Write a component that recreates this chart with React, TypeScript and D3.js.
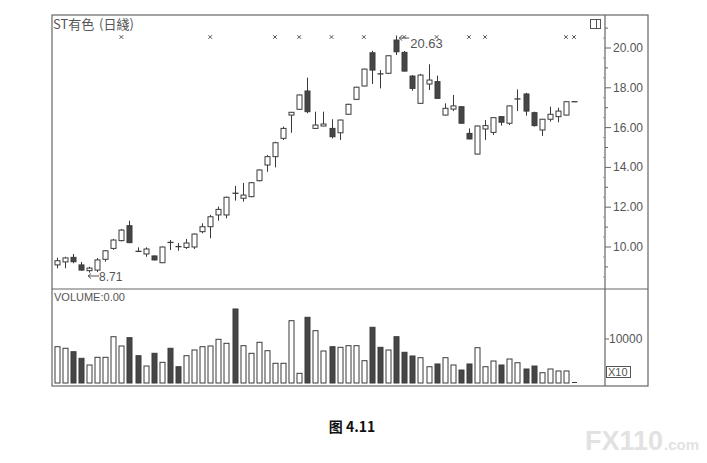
import React from "react";
import * as d3 from "d3";

const openP = [9.10, 9.25, 9.48, 9.10, 8.81, 8.84, 9.38, 9.93, 10.32, 11.07, 9.78, 9.65, 9.55, 9.21, 10.23, 10.02, 9.98, 10.00, 10.77, 11.02, 11.61, 11.61, 12.70, 12.45, 12.53, 13.33, 14.12, 14.54, 15.46, 16.63, 16.92, 17.84, 15.96, 16.08, 15.96, 15.74, 16.67, 17.42, 18.09, 19.76, 18.70, 18.73, 20.40, 19.78, 18.59, 17.22, 18.19, 18.31, 16.63, 16.93, 17.05, 15.71, 14.67, 15.93, 15.76, 16.55, 16.22, 17.43, 17.69, 16.75, 15.88, 16.42, 16.55, 16.63, 17.30];
const closeP = [9.31, 9.45, 9.26, 8.84, 8.94, 9.35, 9.81, 10.35, 10.85, 10.22, 9.77, 9.90, 9.35, 10.00, 10.21, 10.00, 10.20, 10.65, 11.02, 11.52, 11.89, 12.50, 12.68, 12.61, 13.23, 13.87, 14.54, 15.24, 15.96, 16.77, 17.64, 16.80, 16.13, 16.18, 15.54, 16.38, 17.17, 18.03, 18.94, 18.89, 18.69, 19.61, 19.81, 18.84, 17.97, 18.64, 18.39, 17.47, 16.97, 17.09, 16.22, 15.43, 16.08, 16.10, 16.50, 16.27, 17.09, 17.44, 16.83, 16.10, 16.42, 16.67, 16.83, 17.30, 17.30];
const highP = [9.46, 9.51, 9.65, 9.25, 9.01, 9.45, 9.85, 10.40, 10.90, 11.32, 9.98, 9.98, 9.57, 10.02, 10.35, 10.20, 10.40, 10.68, 11.19, 11.61, 12.03, 12.53, 13.07, 13.22, 13.26, 13.90, 14.62, 15.29, 16.05, 16.78, 17.66, 18.51, 16.80, 16.80, 16.42, 16.40, 17.20, 18.05, 18.96, 19.86, 18.89, 19.63, 20.63, 19.85, 18.64, 18.70, 19.18, 18.61, 17.22, 17.64, 17.07, 15.96, 16.10, 16.38, 16.52, 16.57, 17.11, 17.92, 17.75, 16.80, 16.44, 17.05, 17.00, 17.32, 17.30];
const lowP = [8.93, 8.93, 9.18, 8.81, 8.71, 8.74, 9.26, 9.86, 10.28, 10.19, 9.76, 9.51, 9.33, 9.19, 9.85, 9.81, 9.90, 9.90, 10.69, 10.44, 11.32, 11.44, 12.33, 12.28, 12.50, 13.30, 13.78, 14.00, 15.38, 15.74, 16.90, 16.72, 15.95, 16.07, 15.46, 15.38, 16.65, 17.40, 18.07, 18.19, 17.97, 18.70, 19.65, 18.82, 17.85, 17.20, 17.89, 17.45, 16.61, 16.83, 16.20, 15.41, 14.65, 15.38, 15.63, 16.10, 16.13, 16.83, 16.60, 16.05, 15.58, 16.30, 16.27, 16.61, 17.30];
const volume = [8250, 7890, 7110, 5610, 4090, 5840, 5840, 10520, 8410, 10300, 6200, 3860, 6750, 4700, 7890, 3700, 6200, 7500, 8250, 8410, 9930, 9020, 16820, 8480, 6750, 9250, 7340, 4480, 4480, 14160, 2200, 14930, 11890, 7270, 8250, 8110, 8480, 8480, 5070, 12660, 8110, 7500, 10520, 6980, 6140, 5750, 3700, 4320, 5750, 4090, 2950, 4320, 8020, 3700, 5000, 4090, 5450, 4610, 3180, 3860, 2340, 3180, 2730, 2730, 150];
const upVolume = [true, true, false, false, true, true, true, true, true, false, false, true, false, true, false, false, true, true, true, true, true, true, false, true, true, true, true, true, true, true, true, false, true, true, false, true, true, true, true, false, false, true, false, false, false, true, true, false, true, true, false, false, true, true, true, false, true, true, false, false, true, true, true, true, true];
const markerIdx = [8, 19, 27, 30, 34, 38, 43, 47, 51, 53, 63, 64];
const priceTicks = [10, 12, 14, 16, 18, 20];
const minorTicks = [9, 11, 13, 15, 17, 19, 21];
const volTicks = [10000];
const titleName = "ST有色";
const titlePeriod = "(日綫)";
const volTitle = "VOLUME:0.00";
const caption = "图 4.11";
const hiLabel = "20.63";
const loLabel = "8.71";

export default function App() {
  const n = openP.length;
  const idx = d3.range(n);
  const x = d3.scalePoint<number>().domain(idx).range([56.7, 574]);
  const y = d3.scaleLinear().domain([10, 20]).range([247, 48]);
  const yv = d3.scaleLinear().domain([0, 10000]).range([383, 339]);
  const bw = 5;
  const stroke = "#3a3a3a";
  const dark = "#464646";
  const frame = "#666";
  const left = 52, top = 15, right = 648, bottom = 386, axisX = 605, divY = 289;
  const hiI = highP.indexOf(d3.max(highP) as number);
  const loI = lowP.indexOf(d3.min(lowP) as number);
  const font = "'Liberation Sans', Arial, sans-serif";
  const cjk = "'Noto Sans CJK SC', sans-serif";

  return (
    <svg width={707} height={463} style={{ position: "absolute", left: 0, top: 0, background: "#fff" }}>
      <rect x={0} y={0} width={707} height={463} fill="#fff" />
      {/* frame */}
      <rect x={left} y={top} width={right - left} height={bottom - top} fill="none" stroke={frame} strokeWidth={1.2} />
      <line x1={axisX} x2={axisX} y1={top} y2={bottom} stroke={frame} strokeWidth={1.2} />
      <line x1={left} x2={right} y1={divY} y2={divY} stroke={frame} strokeWidth={1.2} />

      {/* title */}
      <text x={53} y={28.5} fontSize={13} fill="#555" fontFamily={cjk}>{titleName}</text>
      <text x={99} y={28.5} fontSize={13} fill="#555" fontFamily={cjk}>{titlePeriod}</text>
      {/* small panel icon */}
      <rect x={590.5} y={19.5} width={10} height={9} fill="none" stroke="#555" strokeWidth={1} />
      <line x1={596.5} x2={596.5} y1={19.5} y2={28.5} stroke="#555" strokeWidth={1} />

      {/* price axis ticks */}
      {minorTicks.map((t) => (
        <line key={"m" + t} x1={axisX} x2={axisX + 3} y1={y(t)} y2={y(t)} stroke={frame} />
      ))}
      {d3.range(8.5, 21.5, 1).map((t) => (
        <line key={"h" + t} x1={axisX - 2} x2={axisX} y1={y(t)} y2={y(t)} stroke="#999" />
      ))}
      {priceTicks.map((t) => (
        <g key={"p" + t}>
          <line x1={axisX} x2={axisX + 6} y1={y(t)} y2={y(t)} stroke={frame} />
          <text x={axisX + 8} y={y(t) + 4} fontSize={12} fill="#555" fontFamily={font}>{t.toFixed(2)}</text>
        </g>
      ))}
      {/* volume axis */}
      {volTicks.map((t) => (
        <g key={"v" + t}>
          <line x1={axisX} x2={axisX + 4} y1={yv(t)} y2={yv(t)} stroke={frame} />
          <text x={axisX + 4} y={yv(t) + 4} fontSize={12} fill="#555" fontFamily={font}>{t}</text>
        </g>
      ))}
      <rect x={606.5} y={366.5} width={24} height={11} fill="none" stroke="#555" />
      <text x={608} y={376} fontSize={11} fill="#555" fontFamily={font}>X10</text>

      {/* markers */}
      {markerIdx.map((i) => {
        const cx = x(i) as number;
        return (
          <path key={"x" + i} d={`M${cx - 1.8},${35.2}L${cx + 1.8},${38.8}M${cx + 1.8},${35.2}L${cx - 1.8},${38.8}`} stroke="#555" strokeWidth={1} />
        );
      })}

      {/* candles */}
      {idx.map((i) => {
        const cx = Math.round(x(i) as number) + 0.5;
        const o = openP[i], c = closeP[i];
        const up = c >= o;
        const yTop = y(Math.max(o, c));
        const yBot = y(Math.min(o, c));
        const h = Math.max(yBot - yTop, 0);
        return (
          <g key={"c" + i}>
            <line x1={cx} x2={cx} y1={y(highP[i])} y2={y(lowP[i])} stroke={stroke} strokeWidth={1} />
            {h < 1.5 ? (
              <line x1={cx - bw / 2 - 0.5} x2={cx + bw / 2 + 0.5} y1={yTop} y2={yTop} stroke={stroke} strokeWidth={1.3} />
            ) : (
              <rect x={cx - bw / 2} y={yTop} width={bw} height={h} fill={up ? "#fff" : dark} stroke={stroke} strokeWidth={1} />
            )}
          </g>
        );
      })}

      {/* high / low labels */}
      <g fontFamily={font} fill="#555">
        <path d={`M${(x(hiI) as number) + 3},${38}L${(x(hiI) as number) + 13},${38}M${(x(hiI) as number) + 3},${38}L${(x(hiI) as number) + 6},${35.5}M${(x(hiI) as number) + 3},${38}L${(x(hiI) as number) + 6},${40.5}`} stroke="#555" fill="none" />
        <text x={(x(hiI) as number) + 14} y={48} fontSize={13}>{hiLabel}</text>
        <path d={`M${(x(loI) as number) - 1},${276}L${(x(loI) as number) + 10},${276}M${(x(loI) as number) - 1},${276}L${(x(loI) as number) + 2},${273.5}M${(x(loI) as number) - 1},${276}L${(x(loI) as number) + 2},${278.5}`} stroke="#555" fill="none" />
        <text x={(x(loI) as number) + 10} y={280.5} fontSize={12}>{loLabel}</text>
      </g>

      {/* volume */}
      <text x={54} y={301} fontSize={11} fill="#555" fontFamily={font}>{volTitle}</text>
      {idx.map((i) => {
        const cx = Math.round(x(i) as number) + 0.5;
        const top2 = yv(volume[i]);
        const hh = yv(0) - top2;
        if (hh < 2) {
          return <line key={"v" + i} x1={cx - bw / 2} x2={cx + bw / 2} y1={yv(0) - 0.5} y2={yv(0) - 0.5} stroke={stroke} />;
        }
        return (
          <rect key={"v" + i} x={cx - bw / 2} y={top2} width={bw} height={hh} fill={upVolume[i] ? "#fff" : dark} stroke={stroke} strokeWidth={1} />
        );
      })}

      {/* caption */}
      <text x={352} y={432} fontSize={14} fontWeight="bold" textAnchor="middle" fill="#111" fontFamily={cjk}>{caption}</text>

      {/* watermark */}
      <text x={585} y={450} fontSize={27} fontWeight="bold" fill="#e2e2e2" fontFamily={font}>FX110</text>
      <text x={664} y={450} fontSize={15} fontWeight="bold" fill="#e2e2e2" fontFamily={font}>.com</text>
    </svg>
  );
}
